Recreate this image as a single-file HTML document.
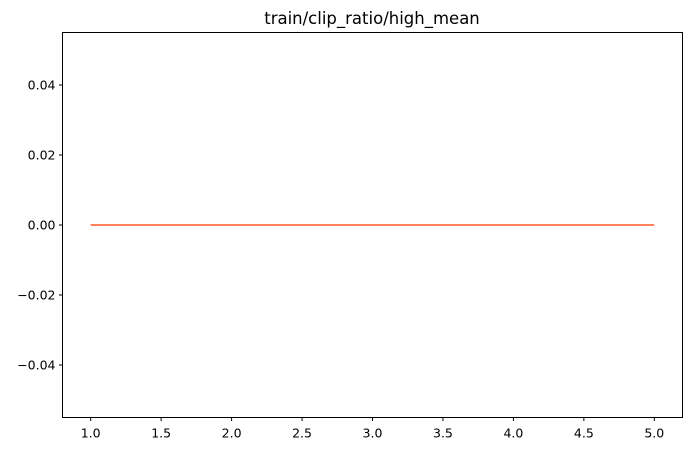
<!DOCTYPE html>
<html><head><meta charset="utf-8"><style>
body{margin:0;background:#fff;}
svg{display:block;font-family:"DejaVu Sans","Liberation Sans",sans-serif;}
</style></head><body>
<svg id="chart" width="691" height="451" xmlns="http://www.w3.org/2000/svg">
<rect width="691" height="451" fill="#fff"/>
<text x="372" y="24" font-size="16.5" text-anchor="middle" fill="#000">train/clip_ratio/high_mean</text>
<g id="xt"></g>
<g id="yt"></g>
<polyline id="ln" fill="none" stroke="#ff7043" stroke-width="1.8"/>
<rect x="62.5" y="32.5" width="620" height="385" fill="none" stroke="#000" stroke-width="1"/>
</svg>
<script>
const xValues=[1,2,3,4,5];
const yValues=[0,0,0,0,0];
const xTicks=[1.0,1.5,2.0,2.5,3.0,3.5,4.0,4.5,5.0];
const yTicks=[0.04,0.02,0.00,-0.02,-0.04];
const L=62.5,R=682.5,T=32.5,B=417.5;
const x0=1,x1=5,xp=(x1-x0)*0.05;
const y0=-0.055,y1=0.055;
function sx(v){return L+(v-(x0-xp))/((x1+xp)-(x0-xp))*(R-L);}
function sy(v){return B-(v-y0)/(y1-y0)*(B-T);}
const NS='http://www.w3.org/2000/svg';
const xt=document.getElementById('xt'),yt=document.getElementById('yt');
xTicks.forEach(v=>{
 const t=document.createElementNS(NS,'line');
 t.setAttribute('x1',sx(v));t.setAttribute('x2',sx(v));t.setAttribute('y1',B);t.setAttribute('y2',B+3.5);t.setAttribute('stroke','#000');
 
 
 xt.appendChild(t);
 const s=document.createElementNS(NS,'text');
 s.setAttribute('x',sx(v));s.setAttribute('y',B+20);s.setAttribute('font-size','12.5');s.setAttribute('text-anchor','middle');
 s.textContent=v.toFixed(1);
 
 
 xt.appendChild(s);
});
yTicks.forEach(v=>{
 const t=document.createElementNS(NS,'line');
 t.setAttribute('x1',L-3.5);t.setAttribute('x2',L);t.setAttribute('y1',sy(v));t.setAttribute('y2',sy(v));t.setAttribute('stroke','#000');
 
 
 yt.appendChild(t);
 const s=document.createElementNS(NS,'text');
 s.setAttribute('x',L-7);s.setAttribute('y',sy(v)+4.5);s.setAttribute('font-size','12.5');s.setAttribute('text-anchor','end');
 s.textContent=(v<0?'\u2212':'')+Math.abs(v).toFixed(2);
 
 
 yt.appendChild(s);
});
document.getElementById('ln').setAttribute('points',xValues.map((x,i)=>sx(x)+','+sy(yValues[i])).join(' '));
</script>
</body></html>
